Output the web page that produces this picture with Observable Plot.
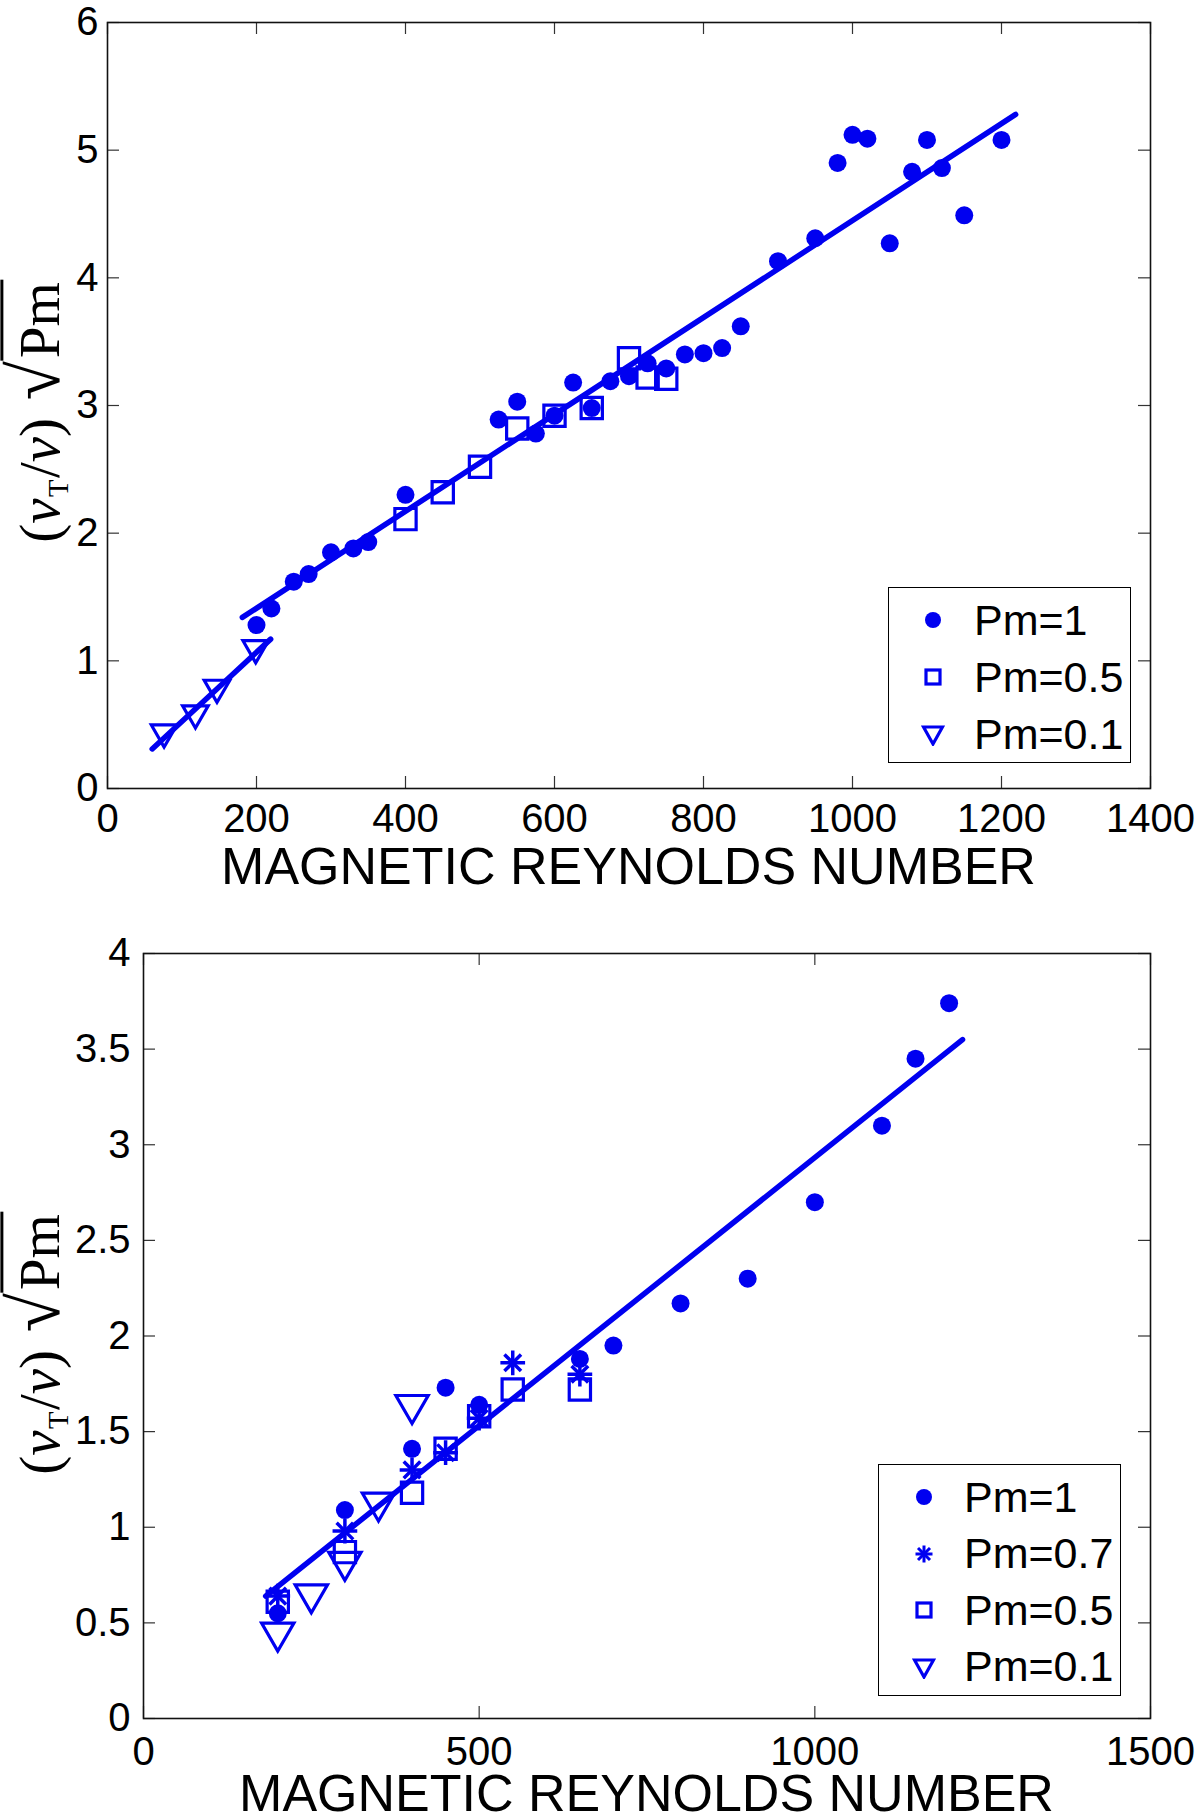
<!DOCTYPE html>
<html>
<head>
<meta charset="utf-8">
<script src="https://cdn.jsdelivr.net/npm/d3@7"></script>
<script src="https://cdn.jsdelivr.net/npm/@observablehq/plot@0.6"></script>
<style>
  body { margin: 0; background: #fff; }
  #page { position: relative; width: 1200px; height: 1816px; overflow: hidden; background: #fff; }
  .chart { position: absolute; left: 0; }
  .xlabel { position: absolute; text-align: center; white-space: nowrap;
            font-family: "Liberation Sans", Arial, sans-serif;
            font-size: 52px; line-height: 1; color: #000; }
  .ylabel { position: absolute; white-space: nowrap; color: #000;
            font-family: "Liberation Serif", "DejaVu Serif", serif; font-size: 57px; line-height: 1;
            transform: translate(-50%, -50%) rotate(-90deg); }
  .ylabel .sub { font-size: 0.5em; font-style: normal; position: relative; top: 0.3em; margin: 0 0.05em; }
  .ylabel .rad { font-size: 1.25em; margin-left: 0.25em; }
  .ylabel .ov { border-top: 3px solid #000; padding: 0.08em 0.05em 0 0.05em; }
  .legend { position: absolute; border: 1.5px solid #000; background: #fff; box-sizing: border-box; }
  .legend .row { position: absolute; left: 0; height: 50px; display: flex; align-items: center;
                 font-family: "Liberation Sans", Arial, sans-serif; font-size: 43px; }
  .legend svg { display: block; }
</style>
</head>
<body>
<div id="page"></div>
<script>
const BLUE = "#0000f0";
const SANS = '"Liberation Sans", Arial, sans-serif';

// ---- top panel: values ----
const topXTicks = [0, 200, 400, 600, 800, 1000, 1200, 1400];
const topYTicks = [0, 1, 2, 3, 4, 5, 6];

const topPm1X = [200, 220, 250, 270, 300, 330, 350, 400, 525, 550, 575, 600, 625, 650, 675, 700, 725, 750, 775, 800, 825, 850,
                 900, 950, 980, 1000, 1020, 1050, 1080, 1100, 1120, 1150, 1200];
const topPm1Y = [1.28, 1.41, 1.62, 1.68, 1.85, 1.88, 1.93, 2.30, 2.89, 3.03, 2.78, 2.92, 3.18, 2.98, 3.19, 3.23, 3.33, 3.29, 3.40, 3.41, 3.45, 3.62,
                 4.13, 4.31, 4.90, 5.12, 5.09, 4.27, 4.83, 5.08, 4.86, 4.49, 5.08];
const topPm05X = [400, 450, 500, 550, 600, 650, 700, 725, 750];
const topPm05Y = [2.11, 2.32, 2.52, 2.82, 2.92, 2.98, 3.37, 3.22, 3.21];
const topPm01X = [76, 118, 147, 199];
const topPm01Y = [0.44, 0.59, 0.79, 1.10];

// fitted lines (end points)
const topFitLongX = [181, 1219];
const topFitLongY = [1.34, 5.28];
const topFitShortX = [60, 219];
const topFitShortY = [0.31, 1.17];

// ---- bottom panel ----
const botXTicks = [0, 500, 1000, 1500];
const botYTicks = [0, 0.5, 1, 1.5, 2, 2.5, 3, 3.5, 4];

const botPm1X = [200, 300, 400, 450, 500, 650, 700, 800, 900, 1000, 1100, 1150, 1200];
const botPm1Y = [0.55, 1.09, 1.41, 1.73, 1.64, 1.88, 1.95, 2.17, 2.30, 2.70, 3.10, 3.45, 3.74];
const botPm07X = [200, 300, 400, 450, 500, 550, 650];
const botPm07Y = [0.64, 0.98, 1.30, 1.39, 1.57, 1.86, 1.80];
const botPm05X = [200, 300, 400, 450, 500, 550, 650];
const botPm05Y = [0.61, 0.87, 1.18, 1.41, 1.58, 1.72, 1.72];
const botPm01X = [200, 250, 300, 350, 400];
const botPm01Y = [0.45, 0.65, 0.82, 1.13, 1.64];

const botFitX = [182, 1220];
const botFitY = [0.64, 3.55];

const zip = (xs, ys) => xs.map((x, i) => ({x, y: ys[i]}));

// a MATLAB-style '*' is a plus and a cross drawn on top of each other
const markerStyles = {
  circle:   (r) => [{symbol: "circle", r, fill: BLUE, stroke: "none"}],
  square:   (r) => [{symbol: "square", r, fill: "none", stroke: BLUE, strokeWidth: 3.2}],
  triangle: (r) => [{symbol: "triangle", r, rotate: 180, fill: "none", stroke: BLUE, strokeWidth: 3.2}],
  asterisk: (r) => [
    {symbol: "plus", r, fill: "none", stroke: BLUE, strokeWidth: 3.5},
    {symbol: "times", r: r * 0.95, fill: "none", stroke: BLUE, strokeWidth: 3.5}
  ]
};

function panel(cfg) {
  const innerW = cfg.width - cfg.marginLeft - cfg.marginRight;
  const innerH = cfg.height - cfg.marginTop - cfg.marginBottom;
  const tl = 12;
  return Plot.plot({
    width: cfg.width,
    height: cfg.height,
    marginLeft: cfg.marginLeft,
    marginRight: cfg.marginRight,
    marginTop: cfg.marginTop,
    marginBottom: cfg.marginBottom,
    x: {domain: cfg.xDomain, ticks: cfg.xTicks, tickSize: 0, tickPadding: cfg.xPad, tickFormat: (d) => String(d), label: null},
    y: {domain: cfg.yDomain, ticks: cfg.yTicks, tickSize: 0, tickPadding: cfg.yPad, tickFormat: (d) => String(d), label: null},
    style: {fontFamily: SANS, fontSize: "40px", color: "#000", background: "transparent", overflow: "visible"},
    marks: [
      Plot.tickX(cfg.xTicks, {x: (d) => d, insetTop: innerH - tl, stroke: "#333", strokeWidth: 1.2}),
      Plot.tickX(cfg.xTicks, {x: (d) => d, insetBottom: innerH - tl, stroke: "#333", strokeWidth: 1.2}),
      Plot.tickY(cfg.yTicks, {y: (d) => d, insetRight: innerW - tl, stroke: "#333", strokeWidth: 1.2}),
      Plot.tickY(cfg.yTicks, {y: (d) => d, insetLeft: innerW - tl, stroke: "#333", strokeWidth: 1.2}),
      Plot.frame({stroke: "#111", strokeWidth: 1.6}),
      ...cfg.series.flatMap((s) => markerStyles[s.marker](s.r).map((st) => Plot.dot(s.data, {x: "x", y: "y", ...st}))),
      ...cfg.fits.map((f) => Plot.line(f, {x: "x", y: "y", stroke: BLUE, strokeWidth: 5.5}))
    ]
  });
}

const page = document.getElementById("page");

function place(el, top) {
  el.classList.add("chart");
  el.style.top = top + "px";
  page.appendChild(el);
}

function xLabel(left, width, top) {
  const d = document.createElement("div");
  d.className = "xlabel";
  d.style.left = left + "px";
  d.style.width = width + "px";
  d.style.top = top + "px";
  d.textContent = "MAGNETIC REYNOLDS NUMBER";
  page.appendChild(d);
}

function yLabel(cx, cy) {
  const d = document.createElement("div");
  d.className = "ylabel";
  d.style.left = cx + "px";
  d.style.top = cy + "px";
  d.innerHTML = '(<i>ν</i><span class="sub">T</span>/<i>ν</i>)<span class="rad">√</span><span class="ov">Pm</span>';
  page.appendChild(d);
}

const legendIcon = {
  circle: '<circle cx="12" cy="12" r="8" fill="' + BLUE + '"/>',
  asterisk: '<g stroke="' + BLUE + '" stroke-width="3"><line x1="12" y1="3.5" x2="12" y2="20.5"/><line x1="3.5" y1="12" x2="20.5" y2="12"/>' +
            '<line x1="6" y1="6" x2="18" y2="18"/><line x1="6" y1="18" x2="18" y2="6"/></g>',
  square: '<rect x="5" y="5" width="14" height="14" fill="none" stroke="' + BLUE + '" stroke-width="3.2"/>',
  triangle: '<polygon points="2.5,5 21.5,5 12,22" fill="none" stroke="' + BLUE + '" stroke-width="3.2" stroke-linejoin="miter"/>'
};

function legend(box, items) {
  const d = document.createElement("div");
  d.className = "legend";
  Object.assign(d.style, {left: box.left + "px", top: box.top + "px", width: box.width + "px", height: box.height + "px"});
  items.forEach((it, i) => {
    const row = document.createElement("div");
    row.className = "row";
    row.style.top = (box.first + i * box.step - 25) + "px";
    row.innerHTML = '<svg width="24" height="24" style="margin-left:' + (box.markX - 12) + 'px;margin-right:' + (box.textX - box.markX - 12) + 'px">' +
      legendIcon[it.marker] + '</svg><span>' + it.label + '</span>';
    d.appendChild(row);
  });
  page.appendChild(d);
}

// ---- top chart ----
const topCfg = {
  width: 1200, height: 910, marginLeft: 107, marginRight: 50, marginTop: 22, marginBottom: 122,
  xDomain: [0, 1400], yDomain: [0, 6], xTicks: topXTicks, yTicks: topYTicks, xPad: 15, yPad: 9,
  series: [
    {data: zip(topPm1X, topPm1Y), marker: "circle", r: 9},
    {data: zip(topPm05X, topPm05Y), marker: "square", r: 12},
    {data: zip(topPm01X, topPm01Y), marker: "triangle", r: 9.5}
  ],
  fits: [zip(topFitLongX, topFitLongY), zip(topFitShortX, topFitShortY)]
};
place(panel(topCfg), 0);
xLabel(107, 1043, 840);
yLabel(36, 411);
legend({left: 888, top: 587, width: 243, height: 176, first: 32, step: 57, markX: 44, textX: 85}, [
  {marker: "circle", label: "Pm=1"},
  {marker: "square", label: "Pm=0.5"},
  {marker: "triangle", label: "Pm=0.1"}
]);

// ---- bottom chart ----
const botTop = 910;
const botCfg = {
  width: 1200, height: 906, marginLeft: 143, marginRight: 50, marginTop: 43, marginBottom: 98,
  xDomain: [0, 1500], yDomain: [0, 4], xTicks: botXTicks, yTicks: botYTicks, xPad: 18, yPad: 13,
  series: [
    {data: zip(botPm1X, botPm1Y), marker: "circle", r: 9},
    {data: zip(botPm07X, botPm07Y), marker: "asterisk", r: 8},
    {data: zip(botPm05X, botPm05Y), marker: "square", r: 12},
    {data: zip(botPm01X, botPm01Y), marker: "triangle", r: 12}
  ],
  fits: [zip(botFitX, botFitY)]
};
place(panel(botCfg), botTop);
xLabel(143, 1007, 1767);
yLabel(36, 1343);
legend({left: 878, top: 1464, width: 243, height: 232, first: 32, step: 56.5, markX: 45, textX: 85}, [
  {marker: "circle", label: "Pm=1"},
  {marker: "asterisk", label: "Pm=0.7"},
  {marker: "square", label: "Pm=0.5"},
  {marker: "triangle", label: "Pm=0.1"}
]);
</script>
</body>
</html>
